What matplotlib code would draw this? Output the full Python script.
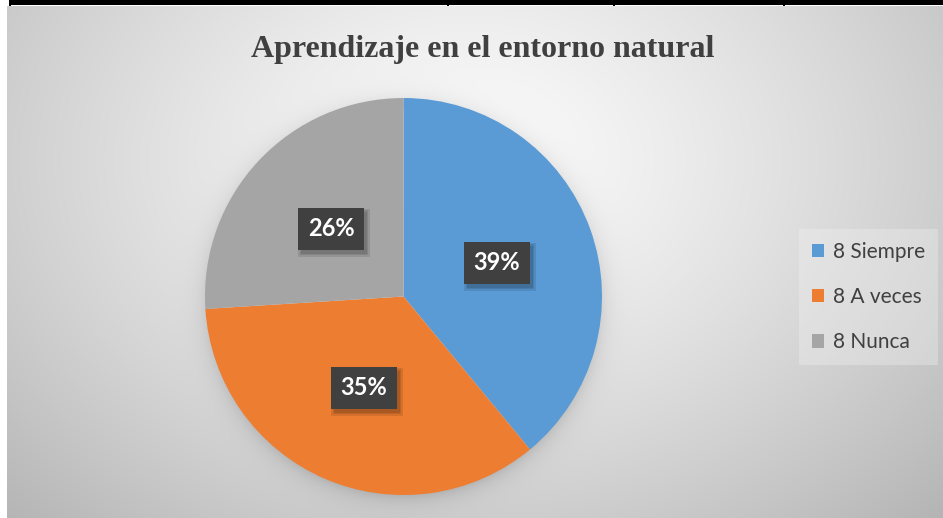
import numpy as np
import matplotlib
matplotlib.use("Agg")
import matplotlib.pyplot as plt
from matplotlib.patches import Rectangle, Patch

# ---- data ----
title = "Aprendizaje en el entorno natural"
categories = ["8 Siempre", "8 A veces", "8 Nunca"]
values = [39, 35, 26]
colors = ["#5B9BD5", "#ED7D31", "#A5A5A5"]

W, H = 943, 518
fig = plt.figure(figsize=(W / 100, H / 100), dpi=100)
fig.patch.set_facecolor("white")

# ---- background (radial gradient + pie shadow) ----
x0, y0 = 7, 6  # chart area top-left in px
bg = fig.add_axes([x0 / W, 0, (W - x0) / W, (H - y0) / H])
bg.set_axis_off()
bg.set_zorder(0)
yy, xx = np.mgrid[y0:H, x0:W].astype(float)
cx, cy = 470.0, 160.0
d = np.sqrt(((xx - cx) / 560.0) ** 2 + ((yy - cy) / 420.0) ** 2)
light = 0.985 - 0.22 * np.clip(d, 0, 1.2) ** 1.3
# soft shadow around pie
pcx, pcy, pr = 403.5, 300.0, 198.5
dd = np.sqrt((xx - pcx) ** 2 + (yy - pcy) ** 2)
shadow = 0.12 * np.exp(-np.clip(dd - pr + 4, 0, None) / 10.0)
shadow[dd < pr - 6] = 0
light = light - shadow
img = np.dstack([light] * 3)
bg.imshow(np.clip(img, 0, 1), extent=[0, 1, 0, 1], aspect="auto", interpolation="bilinear")
bg.set_xlim(0, 1)
bg.set_ylim(0, 1)

# ---- top table border ----
top = fig.add_axes([0, 1 - 7 / H, 1, 7 / H])
top.set_axis_off()
top.set_zorder(5)
top.set_xlim(0, W)
top.set_ylim(7, 0)
top.add_patch(Rectangle((9, 0), W - 9, 4.5, facecolor="black", edgecolor="none"))
for vx in [9, 447, 613, 783]:
    top.add_patch(Rectangle((vx, 0), 2, 6, facecolor="black", edgecolor="none"))

# ---- pie ----
pcx, pcy, pr = 403.5, 296.5, 198.5
ax = fig.add_axes([(pcx - pr) / W, (H - pcy - pr) / H, 2 * pr / W, 2 * pr / H])
ax.set_facecolor("none")
ax.set_zorder(1)
wedges, texts, autotexts = ax.pie(values, colors=colors, startangle=90, counterclock=False,
                                  autopct="%1.0f%%", pctdistance=0.5,
                                  wedgeprops=dict(linewidth=0),
                                  textprops=dict(color="white", fontsize=17, fontweight="bold",
                                                 family="Lato"))
ax.set_xlim(-1, 1)
ax.set_ylim(-1, 1)
ax.set_aspect("equal")
for t in autotexts:
    t.set_bbox(dict(boxstyle="square,pad=0.4", facecolor="#404040", edgecolor="none"))
    t.set_zorder(4)

# ---- title ----
fig.text(482.5 / W, 1 - 49 / H, title, ha="center", va="center", fontsize=23,
         fontweight="bold", family="Liberation Serif", color="#404040")

# ---- legend ----
handles = [Patch(facecolor=c, edgecolor="none") for c in colors]
leg = fig.legend(handles, categories, loc="upper left", bbox_to_anchor=(799 / W, 1 - 229 / H),
                 borderaxespad=0, frameon=True, fancybox=False, framealpha=0.35,
                 facecolor="#f2f2f2", edgecolor="none", handlelength=0.6, handleheight=0.6,
                 handletextpad=0.45, labelspacing=1.22, borderpad=0.6,
                 prop=dict(family="Lato", size=15))
for t in leg.get_texts():
    t.set_color("#404040")

# ---- label box shadows (drawn from the rendered label boxes, inside pie axes) ----
fig.canvas.draw()
invd = ax.transData.inverted()
for t in autotexts:
    bb = t.get_bbox_patch().get_window_extent()
    for k in range(3):
        g = k * 1.5
        (dx0, dy0), (dx1, dy1) = invd.transform([[bb.x0 + 3 - g, bb.y0 - 4 - g],
                                                 [bb.x1 + 3 + g, bb.y1 - 4 + g]])
        ax.add_patch(Rectangle((dx0, dy0), dx1 - dx0, dy1 - dy0, facecolor=(0, 0, 0, 0.10),
                               edgecolor="none", zorder=3))

fig.savefig("out.png", dpi=100)
